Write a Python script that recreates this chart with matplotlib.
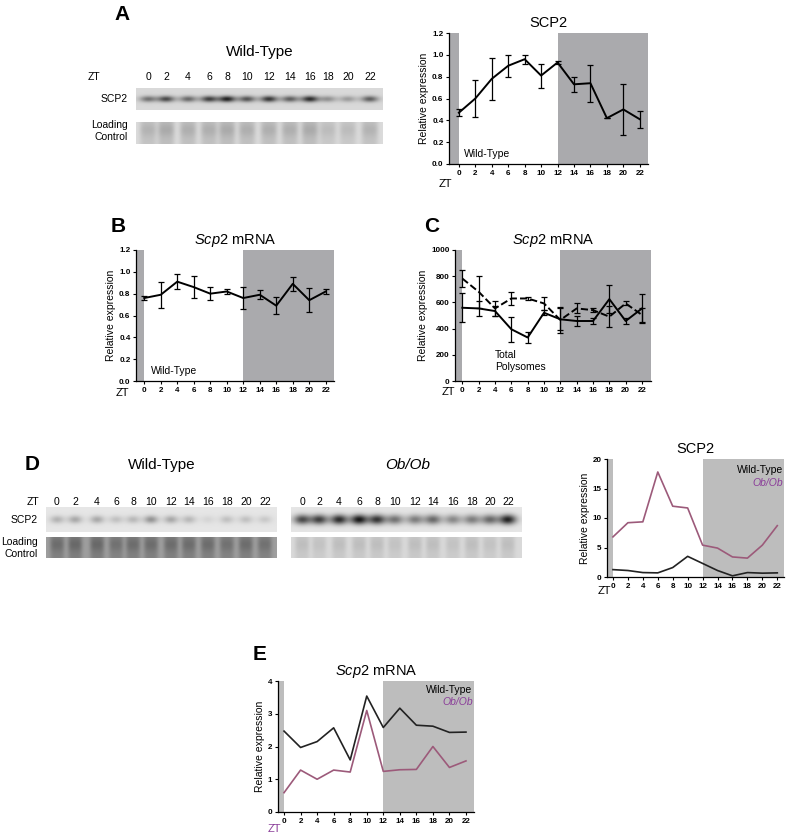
import numpy as np
import matplotlib
matplotlib.use("Agg")
import matplotlib.pyplot as plt

plt.rcParams['font.family'] = ['Liberation Sans', 'DejaVu Sans']
plt.rcParams['mathtext.fontset'] = 'custom'
plt.rcParams['mathtext.rm'] = 'Liberation Sans'
plt.rcParams['mathtext.it'] = 'Liberation Sans:italic'

# ---- data ----
zt = [0, 2, 4, 6, 8, 10, 12, 14, 16, 18, 20, 22]

# A: SCP2 protein, wild-type
a_scp2 = [0.47, 0.60, 0.78, 0.90, 0.96, 0.81, 0.93, 0.73, 0.74, 0.42, 0.50, 0.41]
a_scp2_err = [0.03, 0.17, 0.19, 0.10, 0.04, 0.11, 0.01, 0.07, 0.17, 0.0, 0.23, 0.08]

# B: Scp2 mRNA, wild-type
b_mrna = [0.76, 0.79, 0.91, 0.86, 0.80, 0.82, 0.76, 0.79, 0.69, 0.89, 0.74, 0.82]
b_mrna_err = [0.02, 0.12, 0.07, 0.10, 0.06, 0.025, 0.10, 0.04, 0.075, 0.065, 0.11, 0.025]

# C: Scp2 mRNA, total (solid) and polysomes (dashed)
c_total = [559, 554, 534, 395, 332, 521, 471, 458, 458, 625, 458, 554]
c_total_err = [110, 55, 35, 95, 45, 20, 85, 40, 25, 105, 25, 110]
c_poly = [782, 681, 554, 630, 630, 592, 466, 554, 541, 491, 592, 504]
c_poly_err = [65, 120, 55, 50, 10, 50, 100, 38, 15, 80, 15, 55]

# D: SCP2 protein, wild-type vs Ob/Ob
d_wt = [1.25, 1.1, 0.75, 0.7, 1.6, 3.5, 2.3, 1.1, 0.2, 0.75, 0.65, 0.7]
d_ob = [6.8, 9.2, 9.35, 17.8, 12.0, 11.7, 5.4, 4.9, 3.4, 3.2, 5.4, 8.7]

# E: Scp2 mRNA, wild-type vs Ob/Ob
e_wt = [2.47, 1.97, 2.15, 2.57, 1.59, 3.54, 2.58, 3.17, 2.65, 2.62, 2.43, 2.44]
e_ob = [0.59, 1.28, 1.0, 1.28, 1.22, 3.1, 1.24, 1.29, 1.30, 2.0, 1.36, 1.56]

# blot band strengths (0 = none, 1 = darkest)
a_band = [0.5, 0.7, 0.55, 0.75, 0.9, 0.65, 0.8, 0.6, 0.85, 0.35, 0.3, 0.6]
a_load = [0.45, 0.55, 0.5, 0.5, 0.55, 0.5, 0.5, 0.5, 0.55, 0.35, 0.35, 0.45]
d_wt_band = [0.25, 0.3, 0.3, 0.18, 0.22, 0.4, 0.3, 0.22, 0.08, 0.18, 0.18, 0.14]
d_wt_load = [0.55, 0.6, 0.6, 0.5, 0.55, 0.55, 0.55, 0.55, 0.55, 0.5, 0.55, 0.5]
d_ob_band = [0.75, 0.8, 0.9, 1.0, 0.85, 0.55, 0.5, 0.6, 0.45, 0.5, 0.6, 0.95]
d_ob_load = [0.3, 0.25, 0.3, 0.3, 0.3, 0.25, 0.3, 0.3, 0.25, 0.3, 0.25, 0.3]

# lane label positions (pixels)
a_lanes = [148, 166, 188, 209, 227, 247, 269, 290, 310, 328, 348, 370]
d_wt_lanes = [57, 75, 97, 116, 133, 151, 171, 189, 208, 227, 246, 265]
d_ob_lanes = [302, 319, 339, 359, 377, 395, 415, 433, 453, 472, 490, 508]

W, H = 787, 835
DARK = '#aaaaad'
LIGHT = '#bdbdbd'
OB_LINE = '#9c5a7a'
OB_TEXT = '#8a3d99'

fig = plt.figure(figsize=(W / 100, H / 100), dpi=100)


def px_axes(l, t, r, b):
    return fig.add_axes([l / W, 1 - b / H, (r - l) / W, (b - t) / H])


def style_axes(ax, xlim, ylim, yticks, ylabels, shade):
    ax.set_xlim(*xlim)
    ax.set_ylim(*ylim)
    ax.axvspan(xlim[0], 0, color=shade, lw=0, zorder=0)
    ax.axvspan(12, xlim[1], color=shade, lw=0, zorder=0)
    ax.set_xticks(zt)
    ax.set_xticklabels([str(z) for z in zt], fontsize=5.8, fontweight='bold')
    ax.set_yticks(yticks)
    ax.set_yticklabels(ylabels, fontsize=5.8, fontweight='bold')
    ax.tick_params(length=2.5, width=0.8, pad=1.5)
    for s in ['top', 'right']:
        ax.spines[s].set_visible(False)
    for s in ['left', 'bottom']:
        ax.spines[s].set_linewidth(0.9)
    ax.set_ylabel('Relative expression', fontsize=7.5, labelpad=2)


# ---- A plot ----
ax = px_axes(449, 33, 648, 164)
style_axes(ax, (-1.2, 23), (0, 1.2), np.arange(0, 1.21, 0.2),
           ['%.1f' % v for v in np.arange(0, 1.21, 0.2)], DARK)
ax.errorbar(zt, a_scp2, yerr=a_scp2_err, color='k', lw=1.4, elinewidth=0.9,
            capsize=2, capthick=0.9)
ax.set_title('SCP2', fontsize=10.5, pad=4)
ax.text(0.6, 0.06, 'Wild-Type', fontsize=7.5)

# ---- B plot ----
ax = px_axes(136, 250, 334, 381)
style_axes(ax, (-1, 23), (0, 1.2), np.arange(0, 1.21, 0.2),
           ['%.1f' % v for v in np.arange(0, 1.21, 0.2)], DARK)
ax.errorbar(zt, b_mrna, yerr=b_mrna_err, color='k', lw=1.4, elinewidth=0.9,
            capsize=2, capthick=0.9)
ax.set_title(r'$\mathit{Scp2}$ mRNA', fontsize=10.5, pad=4)
ax.text(0.8, 0.06, 'Wild-Type', fontsize=7.5)

# ---- C plot ----
ax = px_axes(455, 250, 651, 381)
style_axes(ax, (-0.9, 23.1), (0, 1000), np.arange(0, 1001, 200),
           [str(v) for v in range(0, 1001, 200)], DARK)
ax.errorbar(zt, c_total, yerr=c_total_err, color='k', lw=1.4, elinewidth=0.9,
            capsize=2, capthick=0.9)
ax.errorbar(zt, c_poly, yerr=c_poly_err, color='k', lw=1.4, ls='--',
            elinewidth=0.9, capsize=2, capthick=0.9)
ax.set_title(r'$\mathit{Scp2}$ mRNA', fontsize=10.5, pad=4)
ax.text(4.0, 200, 'Total', fontsize=7.5, va='center')
ax.text(4.0, 110, 'Polysomes', fontsize=7.5, va='center')

# ---- D plot ----
ax = px_axes(607, 459, 784, 577)
style_axes(ax, (-0.8, 22.9), (0, 20), [0, 5, 10, 15, 20],
           ['0', '5', '10', '15', '20'], LIGHT)
ax.plot(zt, d_ob, color=OB_LINE, lw=1.2)
ax.plot(zt, d_wt, color='#222222', lw=1.2)
ax.set_title('SCP2', fontsize=10.5, pad=4)
ax.text(22.8, 18.2, 'Wild-Type', fontsize=7.5, ha='right', va='center')
ax.text(22.8, 16.0, 'Ob/Ob', fontsize=7.5, ha='right', va='center',
        color=OB_TEXT, style='italic')

# ---- E plot ----
ax = px_axes(278, 681, 474, 812)
style_axes(ax, (-0.73, 22.97), (0, 4), [0, 1, 2, 3, 4],
           ['0', '1', '2', '3', '4'], LIGHT)
ax.plot(zt, e_ob, color=OB_LINE, lw=1.2)
ax.plot(zt, e_wt, color='#222222', lw=1.2)
ax.set_title(r'$\mathit{Scp2}$ mRNA', fontsize=10.5, pad=4)
ax.text(22.8, 3.74, 'Wild-Type', fontsize=7.5, ha='right', va='center')
ax.text(22.8, 3.36, 'Ob/Ob', fontsize=7.5, ha='right', va='center',
        color=OB_TEXT, style='italic')

# ---- overlay for blots and free text ----
ov = fig.add_axes([0, 0, 1, 1])
ov.set_xlim(0, W)
ov.set_ylim(H, 0)
ov.axis('off')


def blot(x0, x1, y0, y1, lanes, strength, bg, sigma_x=5.0, sigma_y=2.5,
         stripe=False):
    nx, ny = int(x1 - x0) * 2, int(y1 - y0) * 2
    xs = np.linspace(x0, x1, nx)
    ys = np.linspace(y0, y1, ny)
    X, Y = np.meshgrid(xs, ys)
    img = np.full(X.shape, bg)
    yc = (y0 + y1) / 2
    for lx, s in zip(lanes, strength):
        if stripe:
            g = np.exp(-((X - lx) / sigma_x) ** 4 / 2)
            prof = 0.6 + 0.4 * np.exp(-((Y - (y0 + 0.35 * (y1 - y0))) / sigma_y) ** 2 / 2)
            img -= 0.35 * s * g * prof
        else:
            g = np.exp(-((X - lx) / sigma_x) ** 2 / 2 - ((Y - yc) / sigma_y) ** 2 / 2)
            img -= 0.8 * s * g
    ov.imshow(np.clip(img, 0, 1), cmap='gray', vmin=0, vmax=1,
              extent=(x0, x1, y1, y0), aspect='auto', interpolation='bilinear')


# panel A blots
blot(136, 383, 88, 110, a_lanes, a_band, 0.85, sigma_x=6, sigma_y=2.2)
blot(136, 383, 122, 144, a_lanes, a_load, 0.86, sigma_x=7, sigma_y=5, stripe=True)
ov.text(122, 14, 'A', fontsize=15, fontweight='bold', ha='center', va='center')
ov.text(260, 52, 'Wild-Type', fontsize=11, ha='center', va='center')
ov.text(100, 77, 'ZT', fontsize=7.5, ha='right', va='center')
for lx, z in zip(a_lanes, zt):
    ov.text(lx, 77, str(z), fontsize=7.5, ha='center', va='center')
ov.text(128, 99, 'SCP2', fontsize=7.5, ha='right', va='center')
ov.text(128, 125, 'Loading', fontsize=7.5, ha='right', va='center')
ov.text(128, 137, 'Control', fontsize=7.5, ha='right', va='center')
ov.text(445, 184, 'ZT', fontsize=8, ha='center', va='center')

# B/C letters and ZT
ov.text(118, 226, 'B', fontsize=15, fontweight='bold', ha='center', va='center')
ov.text(432, 226, 'C', fontsize=15, fontweight='bold', ha='center', va='center')
ov.text(122, 393, 'ZT', fontsize=8, ha='center', va='center')
ov.text(448, 392, 'ZT', fontsize=8, ha='center', va='center')

# panel D blots
blot(46, 277, 507, 532, d_wt_lanes, d_wt_band, 0.9, sigma_x=5, sigma_y=2.8)
blot(46, 277, 537, 558, d_wt_lanes, d_wt_load, 0.62, sigma_x=6, sigma_y=5, stripe=True)
blot(291, 522, 507, 532, d_ob_lanes, d_ob_band, 0.9, sigma_x=6, sigma_y=3.5)
blot(291, 522, 537, 558, d_ob_lanes, d_ob_load, 0.85, sigma_x=6, sigma_y=5, stripe=True)
ov.text(32, 465, 'D', fontsize=15, fontweight='bold', ha='center', va='center')
ov.text(162, 465, 'Wild-Type', fontsize=11, ha='center', va='center')
ov.text(408, 465, 'Ob/Ob', fontsize=11, ha='center', va='center', style='italic')
ov.text(39, 502, 'ZT', fontsize=7.5, ha='right', va='center')
for lx, z in zip(d_wt_lanes, zt):
    ov.text(lx, 502, str(z), fontsize=7.5, ha='center', va='center')
for lx, z in zip(d_ob_lanes, zt):
    ov.text(lx, 502, str(z), fontsize=7.5, ha='center', va='center')
ov.text(38, 520, 'SCP2', fontsize=7.5, ha='right', va='center')
ov.text(38, 542, 'Loading', fontsize=7.5, ha='right', va='center')
ov.text(38, 554, 'Control', fontsize=7.5, ha='right', va='center')
ov.text(604, 591, 'ZT', fontsize=8, ha='center', va='center')

# panel E
ov.text(260, 655, 'E', fontsize=15, fontweight='bold', ha='center', va='center')
ov.text(274, 829, 'ZT', fontsize=8, ha='center', va='center', color=OB_TEXT)

fig.savefig('out.png', dpi=100)
